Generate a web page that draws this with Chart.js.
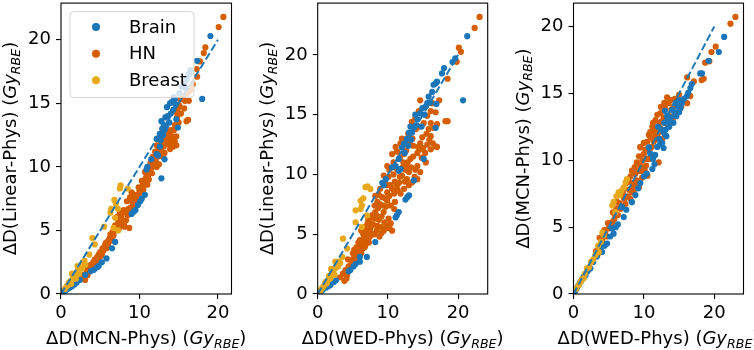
<!DOCTYPE html>
<html><head><meta charset="utf-8">
<script src="https://cdn.jsdelivr.net/npm/chart.js@4"></script>
<style>
html,body{margin:0;padding:0;background:#fff;}
#wrap{position:relative;width:754px;height:350px;overflow:hidden;background:#fff;}
canvas{position:absolute;top:0;}
</style></head>
<body><div id="wrap">
<canvas id="c1" width="252" height="350" style="left:0px"></canvas>
<canvas id="c2" width="256" height="350" style="left:252px"></canvas>
<canvas id="c3" width="262" height="350" style="left:508px"></canvas>
</div>
<script>
// ---------- data ----------
const seriesNames = ['Brain', 'HN', 'Breast'];
const xTicks = [0, 10, 20];
const yTicks = [0, 5, 10, 15, 20];
const refLine = [[0, 0], [20, 20]];
const xTitles = ['ΔD(MCN-Phys)', 'ΔD(WED-Phys)', 'ΔD(WED-Phys)'];
const yTitles = ['ΔD(Linear-Phys)', 'ΔD(Linear-Phys)', 'ΔD(MCN-Phys)'];
const unitMain = 'Gy', unitSub = 'RBE';

// Panel 1: x = MCN-Phys, y = Linear-Phys
const brain1 = [[0.2,0.1],[0.3,0.25],[0.4,0.2],[0.6,0.3],[0.8,0.4],[0.9,0.6],[1.1,0.5],[1.4,0.6],[1.7,0.75],[2.0,0.9],[2.4,1.1],[3.1,1.5],[3.8,1.8],[4.2,1.9],[4.6,2.1],[4.8,2.2],[5.2,2.5],[5.8,2.8],[6.5,3.6],[6.9,4.1],[9.0,6.3],[9.3,6.5],[9.5,6.6],[9.8,7.0],[10.1,7.3],[10.3,7.5],[10.7,7.8],[12.8,9.1],[10.9,9.8],[11.0,10.0],[11.5,10.6],[12.2,11.0],[12.4,10.9],[13.2,10.6],[12.6,11.6],[12.5,12.3],[12.7,12.1],[12.2,12.2],[12.6,12.6],[13.0,12.5],[13.2,12.9],[12.9,13.0],[13.1,13.3],[13.4,13.2],[12.8,13.6],[13.3,13.9],[13.8,13.5],[13.6,14.0],[14.0,14.2],[13.5,14.7],[14.6,14.9],[13.9,15.0],[14.1,15.1],[14.3,14.5],[14.5,15.3],[14.4,15.5],[14.7,13.75],[14.9,13.1],[15.1,15.8],[15.4,16.3],[15.9,16.2],[15.7,16.6],[16.0,16.9],[16.3,17.3],[16.5,17.6],[17.35,18.35],[19.05,20.3],[18.0,15.35]];
const hn1 = [[2.6,1.3],[2.9,1.5],[3.1,1.4],[3.07,1.1],[3.3,1.7],[3.4,1.5],[3.2,2.0],[3.5,1.8],[3.6,2.1],[3.9,2.0],[3.8,2.3],[4.0,2.2],[4.2,2.0],[4.1,2.5],[4.3,2.7],[4.5,2.6],[4.4,2.4],[4.6,2.9],[4.8,3.1],[4.9,2.9],[4.7,2.7],[5.0,3.3],[5.1,3.0],[5.2,3.1],[5.3,3.6],[5.4,3.4],[5.5,3.6],[5.6,3.8],[5.8,3.6],[5.7,4.0],[5.9,4.1],[6.0,3.9],[6.1,4.2],[6.2,4.4],[6.4,4.2],[6.3,4.7],[6.5,4.5],[6.7,4.6],[6.6,4.9],[6.8,5.1],[6.9,5.4],[7.0,5.0],[7.1,5.4],[7.4,5.2],[7.3,5.7],[7.2,6.1],[7.5,6.3],[7.8,6.4],[7.7,6.1],[7.6,5.5],[7.9,5.7],[8.0,5.5],[8.1,5.3],[8.3,5.8],[8.5,6.2],[8.4,6.4],[8.2,6.5],[8.7,5.2],[8.8,6.4],[8.0,6.6],[8.6,6.7],[8.9,6.8],[8.4,7.3],[8.8,7.6],[9.0,8.0],[9.1,7.2],[9.3,7.0],[9.4,7.8],[9.6,7.4],[9.2,7.6],[9.8,7.8],[9.9,8.4],[10.0,8.1],[10.2,8.0],[10.5,8.2],[10.4,8.5],[10.3,8.9],[10.6,8.7],[10.8,9.1],[10.7,9.6],[10.9,9.4],[11.1,9.3],[11.2,9.0],[11.0,8.6],[11.3,9.8],[11.4,10.3],[11.5,9.9],[11.6,9.5],[11.8,10.1],[11.7,10.8],[11.9,10.5],[12.1,10.4],[12.2,10.0],[12.5,10.2],[12.3,10.8],[12.0,11.2],[12.2,11.7],[12.4,11.5],[12.6,10.9],[12.6,11.3],[12.8,11.2],[12.9,11.6],[13.0,10.8],[12.7,11.8],[12.9,12.2],[13.1,11.6],[13.2,11.1],[13.4,12.0],[13.3,12.3],[13.5,12.5],[13.3,12.8],[13.6,12.1],[13.7,11.8],[13.9,11.4],[13.8,12.6],[13.9,12.3],[14.1,11.9],[14.2,12.4],[14.0,12.9],[14.4,12.9],[14.3,11.6],[14.5,12.0],[14.7,11.7],[14.7,12.4],[14.5,13.3],[14.8,13.9],[14.7,14.3],[14.9,14.6],[15.1,14.8],[15.0,13.5],[15.3,14.2],[15.7,14.6],[15.2,15.3],[15.8,15.2],[15.6,15.6],[16.1,15.8],[16.0,13.6],[16.2,13.7],[16.3,15.2],[16.5,16.05],[16.8,16.5],[17.35,17.1],[17.3,17.7],[17.7,18.3],[18.2,18.96],[18.4,19.4],[20.1,21.0],[20.7,21.8]];
const breast1 = [[0.5,0.4],[0.7,0.6],[0.9,0.7],[1.0,0.9],[1.2,1.0],[1.3,0.8],[1.5,1.2],[1.6,1.4],[1.8,1.5],[1.9,1.2],[2.0,1.7],[2.2,1.9],[2.3,1.6],[2.5,2.1],[2.6,2.3],[2.8,2.5],[2.7,2.0],[3.0,2.6],[3.1,2.3],[1.4,1.6],[2.1,2.2],[3.6,3.1],[4.0,4.4],[4.3,3.9],[5.5,5.3],[6.7,5.2],[6.3,6.4],[6.9,6.0],[7.3,5.0],[6.4,6.7],[7.25,6.7],[6.8,7.4],[7.0,7.1],[7.5,8.3],[7.6,8.55],[8.5,8.3]];

// Panel 2: x = WED-Phys, y = Linear-Phys
const brain2 = [[0.2,0.1],[0.3,0.25],[0.4,0.2],[0.6,0.3],[0.9,0.45],[1.2,0.55],[1.5,0.65],[1.8,0.75],[2.3,1.0],[2.6,1.15],[4.4,1.9],[4.65,2.0],[5.1,2.3],[5.4,2.5],[6.0,2.7],[6.0,3.1],[7.0,3.1],[8.2,4.35],[9.2,9.3],[9.4,9.1],[9.7,9.6],[10.6,10.6],[11.1,10.7],[11.55,10.3],[11.1,6.4],[11.3,6.6],[11.55,6.85],[12.5,7.9],[12.75,8.1],[13.0,8.24],[13.7,9.5],[15.1,11.3],[11.55,11.3],[11.8,10.45],[12.0,12.25],[12.4,11.8],[12.3,12.6],[12.9,12.4],[12.7,13.0],[13.3,12.9],[13.0,13.5],[13.45,13.5],[13.7,13.9],[13.2,14.0],[14.0,14.1],[14.2,14.6],[14.8,14.0],[13.9,15.0],[14.6,15.1],[15.2,15.0],[14.9,15.55],[15.4,15.7],[15.6,15.96],[16.0,16.0],[15.8,16.5],[16.3,16.9],[16.5,17.5],[16.8,17.6],[17.0,17.76],[16.9,15.9],[16.8,13.9],[17.7,18.45],[18.0,18.9],[19.2,19.4],[19.6,19.7],[21.3,21.56],[20.7,16.2]];
const hn2 = [[3.2,1.4],[3.8,1.1],[4.1,1.3],[3.6,1.7],[3.95,2.0],[4.2,1.6],[4.4,2.3],[4.65,2.4],[4.9,2.5],[4.3,2.9],[4.8,2.8],[5.1,2.97],[5.4,2.7],[5.0,3.4],[5.3,3.2],[5.7,3.2],[5.6,3.5],[5.2,3.7],[5.5,3.9],[5.9,3.8],[6.2,3.4],[6.3,3.7],[6.1,4.1],[5.8,4.3],[6.0,4.5],[6.4,4.4],[6.7,3.9],[6.8,4.1],[7.0,4.4],[7.3,4.3],[6.6,4.6],[6.5,5.0],[6.2,5.3],[6.9,4.9],[7.0,5.3],[7.3,4.7],[7.6,4.9],[7.5,5.5],[7.75,5.05],[8.1,5.0],[8.4,5.3],[6.7,5.6],[7.1,5.9],[7.4,5.9],[7.2,6.2],[7.9,5.8],[8.0,6.3],[8.5,5.7],[8.8,4.8],[9.1,5.1],[8.3,6.6],[7.8,6.6],[8.7,6.2],[9.0,5.6],[9.5,6.0],[9.4,5.3],[9.7,5.5],[9.9,5.7],[10.2,5.5],[10.4,5.9],[10.6,5.3],[10.1,6.3],[10.9,7.1],[8.2,6.85],[8.6,7.2],[8.1,7.4],[9.4,6.85],[9.1,6.5],[9.7,7.3],[8.9,7.5],[9.3,7.4],[10.4,7.4],[11.0,7.7],[9.9,7.8],[9.6,8.0],[8.5,7.7],[8.2,8.2],[8.7,8.3],[9.2,8.1],[10.2,8.2],[8.9,8.8],[9.9,8.5],[10.6,8.8],[10.9,8.4],[11.4,8.7],[11.8,8.4],[9.65,9.2],[9.9,9.1],[10.4,9.1],[10.1,9.8],[9.4,9.9],[11.0,9.4],[10.8,10.0],[10.2,10.4],[11.3,10.45],[11.3,9.1],[11.6,9.3],[11.7,9.8],[12.3,8.8],[12.4,9.4],[13.0,9.1],[12.0,9.9],[12.7,9.6],[13.45,9.34],[13.8,9.8],[14.2,9.6],[13.0,10.2],[12.5,10.4],[12.1,10.6],[13.3,10.6],[13.9,10.4],[14.6,10.2],[12.7,10.7],[14.2,10.7],[15.4,11.0],[10.8,11.0],[9.9,10.7],[10.6,11.7],[12.2,11.0],[12.8,11.0],[12.3,11.7],[11.7,11.4],[11.3,11.9],[13.2,11.3],[13.6,11.5],[14.2,11.8],[14.8,11.4],[14.65,12.1],[14.3,12.3],[15.3,11.8],[16.1,12.1],[17.0,12.3],[11.1,12.3],[11.8,12.6],[12.6,12.0],[13.1,12.7],[13.6,12.4],[14.6,12.6],[15.0,12.2],[15.6,12.5],[16.4,12.6],[16.8,12.35],[15.9,12.9],[13.5,13.0],[12.0,13.0],[12.9,13.4],[14.0,13.8],[14.9,13.1],[15.5,13.4],[16.1,13.2],[15.8,13.8],[15.1,14.3],[14.5,14.0],[16.1,14.3],[16.5,13.9],[17.0,14.2],[13.4,14.4],[13.9,14.7],[14.4,15.3],[15.6,14.9],[16.8,15.2],[16.3,15.96],[16.1,15.3],[14.6,16.2],[17.3,16.2],[18.2,14.45],[18.5,14.45],[18.5,18.0],[19.8,19.42],[20.1,20.6],[20.4,20.25],[22.35,22.25],[23.06,23.17]];
const breast2 = [[0.4,0.3],[0.6,0.5],[0.8,0.6],[1.0,0.8],[1.1,1.0],[1.3,0.9],[1.5,1.2],[1.6,1.5],[1.8,1.3],[2.0,1.7],[2.1,1.9],[2.3,2.0],[2.4,1.6],[2.6,2.2],[2.7,2.5],[2.9,2.3],[3.0,2.7],[3.2,2.6],[3.5,3.1],[1.9,2.1],[2.5,2.7],[3.6,4.63],[4.2,3.8],[5.4,6.0],[6.3,5.6],[7.0,6.57],[5.4,7.0],[6.1,7.1],[6.3,7.4],[6.1,7.8],[6.5,8.0],[6.8,8.93],[7.5,8.79],[7.1,9.0]];

// Panel 3: x = WED-Phys, y = MCN-Phys
const brain3 = [[0.2,0.2],[0.3,0.3],[0.5,0.45],[0.7,0.65],[1.0,0.92],[1.2,1.1],[1.45,1.3],[1.7,1.41],[2.0,1.7],[2.4,1.91],[2.8,2.4],[3.3,2.8],[3.8,3.4],[4.06,3.15],[4.4,3.6],[4.77,3.77],[5.2,4.3],[5.5,4.9],[5.7,4.51],[6.0,5.0],[6.3,5.2],[6.9,6.5],[7.14,5.75],[7.5,6.3],[8.3,6.87],[8.8,7.4],[9.2,7.9],[9.5,8.3],[10.0,8.8],[10.4,9.0],[11.2,9.35],[11.3,10.1],[11.5,9.7],[10.7,10.96],[10.9,10.5],[11.6,10.4],[11.9,11.0],[12.3,11.2],[12.6,11.3],[12.8,10.92],[13.2,11.8],[12.2,11.6],[12.9,12.0],[13.1,12.3],[13.6,12.5],[13.5,12.9],[12.5,12.3],[12.0,12.5],[12.9,12.8],[13.3,13.3],[13.0,13.7],[13.8,13.2],[14.2,12.8],[14.6,13.3],[14.3,13.6],[14.0,13.78],[15.0,13.6],[15.2,13.9],[14.8,14.0],[14.5,14.27],[15.4,14.27],[14.96,14.5],[15.7,14.6],[16.1,14.8],[16.3,15.05],[16.6,15.4],[16.8,15.7],[18.0,16.5],[18.25,16.5],[19.2,17.44],[20.65,18.1],[21.4,19.23]];
const hn3 = [[3.2,3.2],[3.4,2.9],[3.6,3.4],[3.8,3.65],[3.7,4.2],[4.06,4.02],[4.2,3.7],[4.5,4.51],[4.4,4.8],[4.7,4.3],[5.0,4.9],[4.9,5.3],[5.2,5.3],[5.5,5.38],[5.3,5.0],[5.8,5.6],[5.6,6.1],[5.95,5.88],[6.1,6.4],[6.2,6.9],[6.3,5.9],[6.7,6.37],[6.5,6.8],[6.9,6.6],[6.8,7.4],[7.0,7.6],[7.1,7.9],[7.2,7.1],[7.38,6.74],[7.7,7.3],[7.5,8.3],[7.8,8.5],[8.1,7.1],[7.9,7.8],[8.3,7.6],[8.56,7.61],[8.3,8.3],[8.1,8.8],[8.6,8.0],[8.9,8.2],[9.3,7.98],[9.0,8.5],[9.2,9.2],[9.6,9.2],[8.8,9.0],[8.3,9.22],[8.7,9.5],[9.0,9.84],[9.5,9.6],[9.75,8.7],[10.5,8.85],[10.1,9.3],[10.3,9.6],[10.4,10.1],[10.7,10.1],[9.8,10.0],[9.3,10.3],[9.5,10.96],[9.98,10.46],[10.2,10.8],[9.5,11.0],[10.0,11.3],[10.5,11.4],[10.8,10.7],[11.1,11.0],[11.0,11.7],[10.7,11.9],[10.9,12.1],[11.2,10.3],[12.1,9.84],[11.2,12.5],[11.3,12.8],[11.64,13.0],[11.6,12.2],[11.4,11.4],[11.7,11.9],[11.8,11.6],[12.0,12.0],[11.9,13.4],[12.3,12.4],[12.7,12.2],[12.6,11.6],[12.2,12.8],[12.36,13.53],[12.4,14.0],[12.5,12.9],[12.8,13.2],[12.9,14.3],[13.2,13.0],[13.4,12.6],[13.6,13.3],[13.0,13.9],[13.3,14.7],[13.5,14.27],[13.9,13.8],[13.8,14.5],[14.1,13.1],[14.2,14.0],[14.4,14.6],[14.5,13.5],[15.3,14.0],[15.0,14.9],[16.15,14.27],[16.6,14.8],[16.15,16.2],[17.1,15.9],[18.2,16.0],[18.5,16.1],[18.7,17.3],[19.3,17.4],[19.6,18.1],[20.2,18.5],[22.3,20.22],[23.0,20.72]];
const breast3 = [[0.4,0.4],[0.74,0.67],[1.0,0.9],[1.2,1.1],[1.45,1.17],[1.6,1.5],[1.9,1.91],[2.2,2.0],[2.5,2.4],[2.8,2.6],[3.1,2.9],[3.3,3.1],[3.6,3.15],[3.5,3.6],[3.9,3.9],[4.3,4.39],[4.1,4.6],[5.5,6.62],[5.95,6.12],[5.7,6.9],[6.1,7.3],[6.4,7.61],[6.6,7.4],[6.8,7.7],[7.2,8.0],[7.4,8.35],[7.6,8.6]];

// ---------- styling ----------
const FONT = '"DejaVu Sans"';
const FS = 18;
const colors = {Brain: '#1A76B8', HN: '#D55E00', Breast: '#E8A81A'};
const lineColor = '#1f77b4';

Chart.defaults.font.family = FONT;
Chart.defaults.color = '#000';

const panels = [
  {id: 'c1', sets: [brain1, hn1, breast1], left: 61, right: 20.5, ylab: 16, legend: true},
  {id: 'c2', sets: [brain2, hn2, breast2], left: 65.7, right: 20.3, ylab: 20.7, legend: false},
  {id: 'c3', sets: [brain3, hn3, breast3], left: 65.5, right: 26.5, ylab: 20.5, legend: false}
];

function richParts(main) {
  return [
    {t: main + ' (', f: `${FS}px ${FONT}`, dy: 0},
    {t: unitMain, f: `italic ${FS}px ${FONT}`, dy: 0},
    {t: unitSub, f: `italic ${FS * 0.7}px ${FONT}`, dy: FS * 0.22},
    {t: ')', f: `${FS}px ${FONT}`, dy: 0}
  ];
}
function drawRich(ctx, main, cx, y) {
  const parts = richParts(main);
  let w = 0;
  parts.forEach(p => { ctx.font = p.f; p.w = ctx.measureText(p.t).width; w += p.w; });
  let x = cx - w / 2;
  ctx.textAlign = 'left';
  ctx.textBaseline = 'alphabetic';
  ctx.fillStyle = '#000';
  parts.forEach(p => { ctx.font = p.f; ctx.fillText(p.t, x, y + p.dy); x += p.w; });
}

function roundRect(ctx, x, y, w, h, r) {
  ctx.beginPath();
  ctx.moveTo(x + r, y);
  ctx.lineTo(x + w - r, y); ctx.quadraticCurveTo(x + w, y, x + w, y + r);
  ctx.lineTo(x + w, y + h - r); ctx.quadraticCurveTo(x + w, y + h, x + w - r, y + h);
  ctx.lineTo(x + r, y + h); ctx.quadraticCurveTo(x, y + h, x, y + h - r);
  ctx.lineTo(x, y + r); ctx.quadraticCurveTo(x, y, x + r, y);
  ctx.closePath();
}

panels.forEach((p, i) => {
  const all = p.sets.flat();
  const xMax = Math.max(...all.map(d => d[0])) * 1.05;
  const yMax = Math.max(...all.map(d => d[1])) * 1.05;
  const toXY = arr => arr.map(d => ({x: d[0], y: d[1]}));
  const sc = name => ({
    label: name, data: toXY(p.sets[seriesNames.indexOf(name)]),
    backgroundColor: colors[name], borderWidth: 0, pointRadius: 3.1, pointHoverRadius: 3.1
  });

  const decor = {
    id: 'decor' + i,
    afterDatasetsDraw(chart) {
      if (!p.legend) return;
      const ctx = chart.ctx, a = chart.chartArea;
      const bx = a.left + 9, by = a.top + 8.5, bw = 124, bh = 86;
      ctx.save();
      roundRect(ctx, bx, by, bw, bh, 4);
      ctx.fillStyle = 'rgba(255,255,255,0.8)';
      ctx.fill();
      ctx.strokeStyle = 'rgba(204,204,204,0.8)';
      ctx.lineWidth = 1;
      ctx.stroke();
      ctx.font = `${FS}px ${FONT}`;
      ctx.textAlign = 'left';
      ctx.textBaseline = 'middle';
      seriesNames.forEach((n, k) => {
        const yy = by + 15.5 + k * 26.6;
        ctx.beginPath();
        ctx.arc(a.left + 35, yy, 4, 0, Math.PI * 2);
        ctx.fillStyle = colors[n];
        ctx.fill();
        ctx.fillStyle = '#000';
        ctx.fillText(n, a.left + 68, yy + 1);
      });
      ctx.restore();
    },
    afterDraw(chart) {
      const ctx = chart.ctx, a = chart.chartArea;
      ctx.save();
      ctx.strokeStyle = '#000';
      ctx.lineWidth = 1.1;
      ctx.strokeRect(a.left, a.top, a.right - a.left, a.bottom - a.top);
      drawRich(ctx, xTitles[i], (a.left + a.right) / 2, 344);
      ctx.translate(p.ylab, (a.top + a.bottom) / 2);
      ctx.rotate(-Math.PI / 2);
      drawRich(ctx, yTitles[i], 0, 0);
      ctx.restore();
    }
  };

  const zeroPad = s => { s.paddingLeft = 0; s.paddingRight = 0; s.paddingTop = 0; s.paddingBottom = 0; };
  const gridOpts = {drawOnChartArea: false, drawTicks: true, tickLength: 5, color: '#000', lineWidth: 1.1};

  new Chart(document.getElementById(p.id), {
    type: 'scatter',
    data: {
      datasets: [
        {type: 'line', label: 'ref', data: toXY(refLine), borderColor: lineColor, borderWidth: 2,
         borderDash: [7.4, 3.2], pointRadius: 0, fill: false, showLine: true},
        sc('Breast'), sc('Brain'), sc('HN')
      ]
    },
    options: {
      responsive: false, animation: false, devicePixelRatio: 1, events: [],
      layout: {padding: {left: 0, right: p.right, top: 2, bottom: 0}},
      plugins: {legend: {display: false}, tooltip: {enabled: false}},
      scales: {
        x: {
          type: 'linear', min: 0, max: xMax,
          afterBuildTicks: s => { s.ticks = xTicks.map(v => ({value: v})); },
          afterFit: s => { s.height = 56; zeroPad(s); },
          grid: gridOpts, border: {display: false},
          ticks: {color: '#000', font: {size: FS}, padding: 3.5, maxRotation: 0, autoSkip: false}
        },
        y: {
          type: 'linear', min: 0, max: yMax,
          afterBuildTicks: s => { s.ticks = yTicks.map(v => ({value: v})); },
          afterFit: s => { s.width = p.left; zeroPad(s); },
          grid: gridOpts, border: {display: false},
          ticks: {color: '#000', font: {size: FS}, padding: 5, autoSkip: false}
        }
      }
    },
    plugins: [decor]
  });
});
</script>
</body></html>
